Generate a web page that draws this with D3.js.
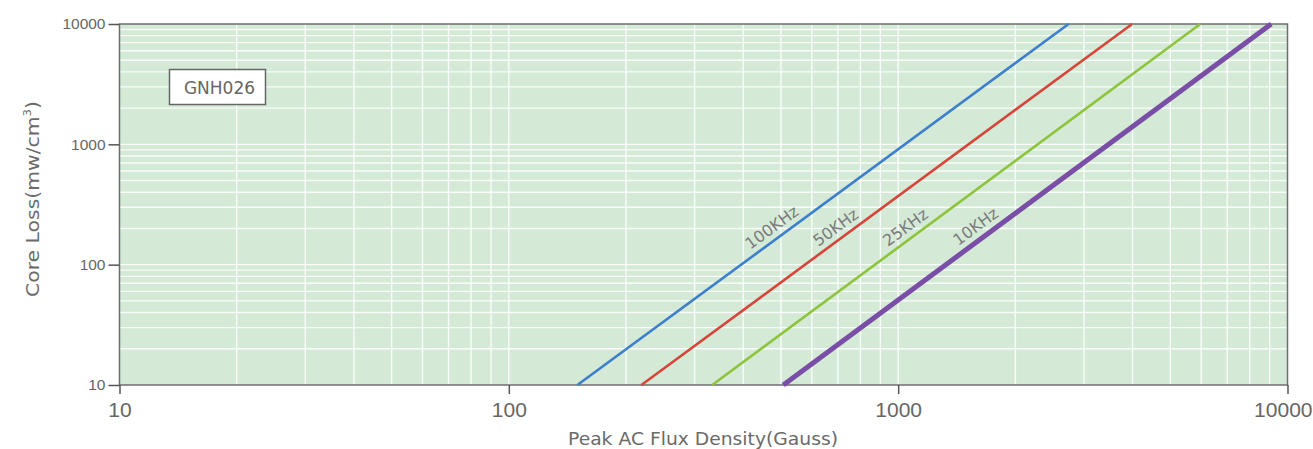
<!DOCTYPE html>
<html>
<head>
<meta charset="utf-8">
<script src="https://cdn.jsdelivr.net/npm/d3@7"></script>
<style>
  html, body { margin: 0; padding: 0; background: #fff; }
  svg { display: block; font-family: "Liberation Sans", Arial, sans-serif; }
</style>
</head>
<body>
<svg id="chart" width="1313" height="449"></svg>
<script>
// Core loss curves for material GNH026 (log-log, straight lines)
const frequencies = ["100KHz", "50KHz", "25KHz", "10KHz"];
// flux density (Gauss) at the two ends of each line
const fluxStart = [150, 219, 333, 507];
const fluxEnd = [2740, 3990, 5970, 9080];
// core loss (mW/cm³) at those ends
const lossStart = [10, 10, 10, 10];
const lossEnd = [10000, 10000, 10000, 10000];
// core loss value where each label sits along its line
const labelLoss = [170, 170, 170, 170];
const colors = ["#3d7fcc", "#d7443a", "#8dc43c", "#7a4ea6"];
const widths = [2.6, 2.6, 2.6, 5];

const xTicks = [10, 100, 1000, 10000];
const yTicks = [10, 100, 1000, 10000];
const materialName = "GNH026";

(function () {
const svg = d3.select("#chart");
const pLeft = 119.5, pRight = 1287.5, pTop = 24, pBottom = 385;
const wideFont = "'DejaVu Sans', 'Liberation Sans', sans-serif";

const x = d3.scaleLog().domain([10, 10000]).range([pLeft, pRight]);
const y = d3.scaleLog().domain([10, 10000]).range([pBottom, pTop]);

// plot background
svg.append("rect")
  .attr("x", pLeft).attr("y", pTop)
  .attr("width", pRight - pLeft).attr("height", pBottom - pTop)
  .attr("fill", "#d4ead7");

// minor grid: 2..9 of every decade plus inner decades
const gridVals = [];
for (let d = 10; d < 10000; d *= 10) {
  for (let k = 1; k <= 9; k++) {
    const v = d * k;
    if (v > 10 && v < 10000) gridVals.push(v);
  }
}
const grid = svg.append("g").attr("stroke", "#ffffff").attr("stroke-width", 1.4).attr("stroke-opacity", 0.85);
grid.selectAll("line.v").data(gridVals).join("line")
  .attr("class", "v")
  .attr("x1", d => x(d)).attr("x2", d => x(d))
  .attr("y1", pTop).attr("y2", pBottom);
grid.selectAll("line.h").data(gridVals).join("line")
  .attr("class", "h")
  .attr("y1", d => y(d)).attr("y2", d => y(d))
  .attr("x1", pLeft).attr("x2", pRight);

// frame
svg.append("rect")
  .attr("x", pLeft).attr("y", pTop)
  .attr("width", pRight - pLeft).attr("height", pBottom - pTop)
  .attr("fill", "none").attr("stroke", "#6e6e6e").attr("stroke-width", 1.5);

// axes
const yAxis = d3.axisLeft(y).tickValues(yTicks).tickFormat(d3.format("d")).tickSize(11).tickPadding(3);
const gy = svg.append("g").attr("transform", `translate(${pLeft},0)`).call(yAxis);
gy.select(".domain").remove();
gy.selectAll("line").attr("stroke", "#555").attr("stroke-width", 1.5);
gy.selectAll("text").attr("fill", "#666").attr("font-size", 15.5);

const xAxis = d3.axisBottom(x).tickValues(xTicks).tickFormat(d3.format("d")).tickSize(9).tickPadding(8);
const gx = svg.append("g").attr("transform", `translate(0,${pBottom})`).call(xAxis);
gx.select(".domain").remove();
gx.selectAll("line").attr("stroke", "#555").attr("stroke-width", 1.5);
gx.selectAll("text").attr("fill", "#666").attr("font-size", 21);
// keep the last tick label inside the page
gx.selectAll(".tick").filter(d => d === 10000).select("text")
  .attr("text-anchor", "end").attr("x", 1312 - x(10000));

// loss lines
const series = frequencies.map((f, i) => ({
  name: f,
  pts: [[fluxStart[i], lossStart[i]], [fluxEnd[i], lossEnd[i]]],
  color: colors[i], width: widths[i], labelLoss: labelLoss[i]
}));
const line = d3.line().x(d => x(d[0])).y(d => y(d[1]));
svg.append("g").selectAll("path").data(series).join("path")
  .attr("d", d => line(d.pts))
  .attr("fill", "none")
  .attr("stroke", d => d.color)
  .attr("stroke-width", d => d.width);

// rotated frequency labels sitting above each line
svg.append("g").selectAll("text").data(series).join("text")
  .each(function (d) {
    const [p0, p1] = d.pts;
    const x0 = x(p0[0]), y0 = y(p0[1]), x1 = x(p1[0]), y1 = y(p1[1]);
    const t = (Math.log10(d.labelLoss) - Math.log10(p0[1])) / (Math.log10(p1[1]) - Math.log10(p0[1]));
    const px = x0 + t * (x1 - x0), py = y0 + t * (y1 - y0);
    const ang = Math.atan2(y1 - y0, x1 - x0) * 180 / Math.PI;
    d3.select(this)
      .attr("transform", `translate(${px},${py}) rotate(${ang})`)
      .attr("dy", -5 - d.width / 2);
  })
  .attr("text-anchor", "middle")
  .attr("fill", "#7a7a7a")
  .attr("font-family", wideFont)
  .attr("font-size", 16)
  .text(d => d.name);

// material tag
const tag = svg.append("g");
tag.append("rect")
  .attr("x", 169.5).attr("y", 69.5).attr("width", 96).attr("height", 35)
  .attr("fill", "#fff").attr("stroke", "#666").attr("stroke-width", 1.5);
tag.append("text")
  .attr("x", 219.5).attr("y", 94)
  .attr("text-anchor", "middle")
  .attr("fill", "#666").attr("font-family", wideFont).attr("font-size", 17)
  .text(materialName);

// axis titles
svg.append("text")
  .attr("x", 703).attr("y", 445)
  .attr("text-anchor", "middle")
  .attr("fill", "#6a6a6a").attr("font-family", wideFont).attr("font-size", 17.5)
  .attr("textLength", 270).attr("lengthAdjust", "spacingAndGlyphs")
  .text("Peak AC Flux Density(Gauss)");

const yt = svg.append("text")
  .attr("transform", `translate(39,199) rotate(-90)`)
  .attr("text-anchor", "middle")
  .attr("fill", "#6a6a6a").attr("font-family", wideFont).attr("font-size", 17.5)
  .attr("textLength", 196).attr("lengthAdjust", "spacingAndGlyphs");
yt.append("tspan").text("Core Loss(mw/cm");
yt.append("tspan").attr("font-size", 10).attr("dy", -8).text("3");
yt.append("tspan").attr("dy", 8).text(")");
})();
</script>
</body>
</html>
